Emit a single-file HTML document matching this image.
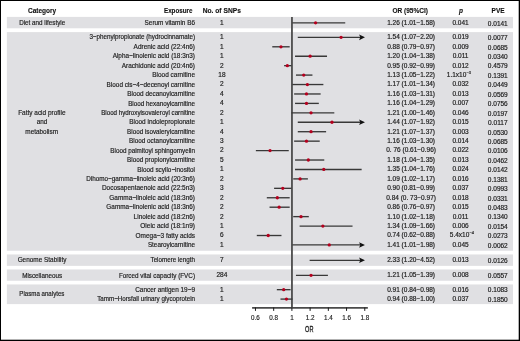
<!DOCTYPE html><html><head><meta charset="utf-8"><style>
html,body{margin:0;padding:0;background:#fff;}
body{width:520px;height:341px;overflow:hidden;position:relative;}
#w{position:absolute;left:0;top:0;width:520px;height:341px;will-change:transform;}
svg{position:absolute;left:0;top:0;display:block;}
text{font-family:"Liberation Sans",sans-serif;}
</style></head><body>
<div id="w"><svg width="520" height="341" viewBox="0 0 520 341">
<rect x="0" y="0" width="520" height="341" fill="#fff"/>
<rect x="6.85" y="16.9" width="506.15" height="11.40" fill="#e0e0e3"/>
<rect x="6.85" y="32.1" width="506.15" height="218.65" fill="#e0e0e3"/>
<rect x="6.85" y="254.45" width="506.15" height="11.42" fill="#e0e0e3"/>
<rect x="6.85" y="269.46" width="506.15" height="11.29" fill="#e0e0e3"/>
<rect x="6.85" y="284.45" width="506.15" height="19.65" fill="#e0e0e3"/>
<g font-weight="bold" font-size="6.5" fill="#111" stroke="#111" stroke-width="0.12">
<text x="42.1" y="12.55" text-anchor="middle">Category</text>
<text x="164.0" y="12.55" textLength="28.4" lengthAdjust="spacingAndGlyphs">Exposure</text>
<text x="221.8" y="12.55" text-anchor="middle" textLength="38.2" lengthAdjust="spacingAndGlyphs">No. of SNPs</text>
<text x="410.2" y="12.55" text-anchor="middle">OR (95%CI)</text>
<text x="461.0" y="12.55" text-anchor="middle" font-style="italic">p</text>
<text x="498.1" y="12.55" text-anchor="middle">PVE</text>
</g>
<g font-size="7.1" fill="#1c1c1c" stroke="#1c1c1c" stroke-width="0.18" text-anchor="middle">
<text x="42.16" y="25.15" textLength="46.00" lengthAdjust="spacingAndGlyphs">Diet and lifestyle</text>
<text x="41.85" y="114.94" textLength="47.38" lengthAdjust="spacingAndGlyphs">Fatty acid profile</text>
<text x="41.97" y="124.37" textLength="10.61" lengthAdjust="spacingAndGlyphs">and</text>
<text x="41.67" y="133.81" textLength="32.70" lengthAdjust="spacingAndGlyphs">metabolism</text>
<text x="42.07" y="262.45" textLength="48.89" lengthAdjust="spacingAndGlyphs">Genome Stability</text>
<text x="42.15" y="277.55" textLength="40.03" lengthAdjust="spacingAndGlyphs">Miscellaneous</text>
<text x="41.88" y="296.45" textLength="45.08" lengthAdjust="spacingAndGlyphs">Plasma analytes</text>
</g>
<g font-size="7.1" fill="#1c1c1c" stroke="#1c1c1c" stroke-width="0.18" text-anchor="end">
<text x="195.0" y="25.15" textLength="50.39" lengthAdjust="spacingAndGlyphs">Serum vitamin B6</text>
<text x="195.0" y="39.45" textLength="105.62" lengthAdjust="spacingAndGlyphs">3−phenylpropionate (hydrocinnamate)</text>
<text x="195.0" y="48.89" textLength="61.41" lengthAdjust="spacingAndGlyphs">Adrenic acid (22:4n6)</text>
<text x="195.0" y="58.32" textLength="82.30" lengthAdjust="spacingAndGlyphs">Alpha−linolenic acid (18:3n3)</text>
<text x="195.0" y="67.76" textLength="73.25" lengthAdjust="spacingAndGlyphs">Arachidonic acid (20:4n6)</text>
<text x="195.0" y="77.19" textLength="42.78" lengthAdjust="spacingAndGlyphs">Blood carnitine</text>
<text x="195.0" y="86.63" textLength="88.39" lengthAdjust="spacingAndGlyphs">Blood cis−4−decenoyl carnitine</text>
<text x="195.0" y="96.07" textLength="67.66" lengthAdjust="spacingAndGlyphs">Blood decanoylcarnitine</text>
<text x="195.0" y="105.50" textLength="66.84" lengthAdjust="spacingAndGlyphs">Blood hexanoylcarnitine</text>
<text x="195.0" y="114.94" textLength="93.84" lengthAdjust="spacingAndGlyphs">Blood hydroxyisovaleroyl carnitine</text>
<text x="195.0" y="124.37" textLength="65.78" lengthAdjust="spacingAndGlyphs">Blood indolepropionate</text>
<text x="195.0" y="133.81" textLength="67.96" lengthAdjust="spacingAndGlyphs">Blood isovalerylcarnitine</text>
<text x="195.0" y="143.25" textLength="66.02" lengthAdjust="spacingAndGlyphs">Blood octanoylcarnitine</text>
<text x="195.0" y="152.68" textLength="84.64" lengthAdjust="spacingAndGlyphs">Blood palmitoyl sphingomyelin</text>
<text x="195.0" y="162.12" textLength="67.97" lengthAdjust="spacingAndGlyphs">Blood propionylcarnitine</text>
<text x="195.0" y="171.55" textLength="57.66" lengthAdjust="spacingAndGlyphs">Blood scyllo−inositol</text>
<text x="195.0" y="180.99" textLength="108.84" lengthAdjust="spacingAndGlyphs">Dihomo−gamma−linoleic acid (20:3n6)</text>
<text x="195.0" y="190.43" textLength="93.04" lengthAdjust="spacingAndGlyphs">Docosapentaenoic acid (22:5n3)</text>
<text x="195.0" y="199.86" textLength="85.64" lengthAdjust="spacingAndGlyphs">Gamma−linoleic acid (18:3n6)</text>
<text x="195.0" y="209.30" textLength="88.63" lengthAdjust="spacingAndGlyphs">Gamma−linolenic acid (18:3n6)</text>
<text x="195.0" y="218.73" textLength="61.39" lengthAdjust="spacingAndGlyphs">Linoleic acid (18:2n6)</text>
<text x="195.0" y="228.17" textLength="54.76" lengthAdjust="spacingAndGlyphs">Oleic acid (18:1n9)</text>
<text x="195.0" y="237.61" textLength="59.40" lengthAdjust="spacingAndGlyphs">Omega−3 fatty acids</text>
<text x="195.0" y="247.04" textLength="47.10" lengthAdjust="spacingAndGlyphs">Stearoylcarnitine</text>
<text x="195.0" y="262.45" textLength="44.47" lengthAdjust="spacingAndGlyphs">Telomere length</text>
<text x="195.0" y="277.55" textLength="76.08" lengthAdjust="spacingAndGlyphs">Forced vital capacity (FVC)</text>
<text x="195.0" y="291.75" textLength="59.78" lengthAdjust="spacingAndGlyphs">Cancer antigen 19−9</text>
<text x="195.0" y="301.05" textLength="97.75" lengthAdjust="spacingAndGlyphs">Tamm−Horsfall urinary glycoprotein</text>
</g>
<g font-size="6.5" fill="#1c1c1c" stroke="#1c1c1c" stroke-width="0.18" text-anchor="middle">
<text x="221.9" y="24.94">1</text>
<text x="221.9" y="39.24">1</text>
<text x="221.9" y="48.68">1</text>
<text x="221.9" y="58.11">1</text>
<text x="221.9" y="67.55">2</text>
<text x="221.9" y="76.99">18</text>
<text x="221.9" y="86.42">2</text>
<text x="221.9" y="95.86">4</text>
<text x="221.9" y="105.29">4</text>
<text x="221.9" y="114.73">2</text>
<text x="221.9" y="124.17">1</text>
<text x="221.9" y="133.60">4</text>
<text x="221.9" y="143.04">3</text>
<text x="221.9" y="152.47">2</text>
<text x="221.9" y="161.91">5</text>
<text x="221.9" y="171.35">1</text>
<text x="221.9" y="180.78">2</text>
<text x="221.9" y="190.22">3</text>
<text x="221.9" y="199.65">2</text>
<text x="221.9" y="209.09">2</text>
<text x="221.9" y="218.53">2</text>
<text x="221.9" y="227.96">1</text>
<text x="221.9" y="237.40">6</text>
<text x="221.9" y="246.83">1</text>
<text x="221.9" y="262.24">7</text>
<text x="221.9" y="277.34">284</text>
<text x="221.9" y="291.54">1</text>
<text x="221.9" y="300.84">1</text>
</g>
<g font-size="6.5" fill="#1c1c1c" stroke="#1c1c1c" stroke-width="0.18" text-anchor="middle">
<text x="411.1" y="24.94">1.26 (1.01−1.58)</text>
<text x="411.1" y="39.24">1.54 (1.07−2.20)</text>
<text x="411.1" y="48.68">0.88 (0.79−0.97)</text>
<text x="411.1" y="58.11">1.20 (1.04−1.38)</text>
<text x="411.1" y="67.55">0.95 (0.92−0.99)</text>
<text x="411.1" y="76.99">1.13 (1.05−1.22)</text>
<text x="411.1" y="86.42">1.17 (1.01−1.34)</text>
<text x="411.1" y="95.86">1.16 (1.03−1.31)</text>
<text x="411.1" y="105.29">1.16 (1.04−1.29)</text>
<text x="411.1" y="114.73">1.21 (1.00−1.46)</text>
<text x="411.1" y="124.17">1.44 (1.07−1.92)</text>
<text x="411.1" y="133.60">1.21 (1.07−1.37)</text>
<text x="411.1" y="143.04">1.16 (1.03−1.30)</text>
<text x="411.1" y="152.47">0. 76 (0.61−0.96)</text>
<text x="411.1" y="161.91">1.18 (1.04−1.35)</text>
<text x="411.1" y="171.35">1.35 (1.04−1.76)</text>
<text x="411.1" y="180.78">1.09 (1.02−1.17)</text>
<text x="411.1" y="190.22">0.90 (0.81−0.99)</text>
<text x="411.1" y="199.65">0.84 (0. 73−0.97)</text>
<text x="411.1" y="209.09">0.86 (0.76−0.97)</text>
<text x="411.1" y="218.53">1.10 (1.02−1.18)</text>
<text x="411.1" y="227.96">1.34 (1.09−1.66)</text>
<text x="411.1" y="237.40">0.74 (0.62−0.88)</text>
<text x="411.1" y="246.83">1.41 (1.01−1.98)</text>
<text x="411.1" y="262.24">2.33 (1.20−4.52)</text>
<text x="411.1" y="277.34">1.21 (1.05−1.39)</text>
<text x="411.1" y="291.54">0.91 (0.84−0.98)</text>
<text x="411.1" y="300.84">0.94 (0.88−1.00)</text>
</g>
<g font-size="6.5" fill="#1c1c1c" stroke="#1c1c1c" stroke-width="0.18">
<text x="460.6" y="24.94" text-anchor="middle">0.041</text>
<text x="460.6" y="39.24" text-anchor="middle">0.019</text>
<text x="460.6" y="48.68" text-anchor="middle">0.009</text>
<text x="460.6" y="58.11" text-anchor="middle">0.011</text>
<text x="460.6" y="67.55" text-anchor="middle">0.012</text>
<text x="446.8" y="76.99">1.1x10<tspan font-size="4.0" dx="0.2" dy="-3.1">−3</tspan></text>
<text x="460.6" y="86.42" text-anchor="middle">0.032</text>
<text x="460.6" y="95.86" text-anchor="middle">0.013</text>
<text x="460.6" y="105.29" text-anchor="middle">0.007</text>
<text x="460.6" y="114.73" text-anchor="middle">0.046</text>
<text x="460.6" y="124.17" text-anchor="middle">0.015</text>
<text x="460.6" y="133.60" text-anchor="middle">0.003</text>
<text x="460.6" y="143.04" text-anchor="middle">0.014</text>
<text x="460.6" y="152.47" text-anchor="middle">0.022</text>
<text x="460.6" y="161.91" text-anchor="middle">0.013</text>
<text x="460.6" y="171.35" text-anchor="middle">0.024</text>
<text x="460.6" y="180.78" text-anchor="middle">0.016</text>
<text x="460.6" y="190.22" text-anchor="middle">0.037</text>
<text x="460.6" y="199.65" text-anchor="middle">0.018</text>
<text x="460.6" y="209.09" text-anchor="middle">0.015</text>
<text x="460.6" y="218.53" text-anchor="middle">0.011</text>
<text x="460.6" y="227.96" text-anchor="middle">0.006</text>
<text x="449.8" y="237.40">5.4x10<tspan font-size="4.0" dx="0.2" dy="-3.1">−4</tspan></text>
<text x="460.6" y="246.83" text-anchor="middle">0.045</text>
<text x="460.6" y="262.24" text-anchor="middle">0.013</text>
<text x="460.6" y="277.34" text-anchor="middle">0.008</text>
<text x="460.6" y="291.54" text-anchor="middle">0.016</text>
<text x="460.6" y="300.84" text-anchor="middle">0.037</text>
</g>
<g font-size="6.5" fill="#1c1c1c" stroke="#1c1c1c" stroke-width="0.18" text-anchor="middle">
<text x="497.8" y="25.84">0.0141</text>
<text x="497.8" y="40.14">0.0077</text>
<text x="497.8" y="49.58">0.0685</text>
<text x="497.8" y="59.01">0.0340</text>
<text x="497.8" y="68.45">0.4579</text>
<text x="497.8" y="77.89">0.1391</text>
<text x="497.8" y="87.32">0.0449</text>
<text x="497.8" y="96.76">0.0569</text>
<text x="497.8" y="106.19">0.0756</text>
<text x="497.8" y="115.63">0.0197</text>
<text x="497.8" y="125.07">0.0117</text>
<text x="497.8" y="134.50">0.0530</text>
<text x="497.8" y="143.94">0.0685</text>
<text x="497.8" y="153.37">0.0106</text>
<text x="497.8" y="162.81">0.0462</text>
<text x="497.8" y="172.25">0.0142</text>
<text x="497.8" y="181.68">0.1381</text>
<text x="497.8" y="191.12">0.0993</text>
<text x="497.8" y="200.55">0.0331</text>
<text x="497.8" y="209.99">0.0483</text>
<text x="497.8" y="219.43">0.1340</text>
<text x="497.8" y="228.86">0.0154</text>
<text x="497.8" y="238.30">0.0273</text>
<text x="497.8" y="247.73">0.0062</text>
<text x="497.8" y="263.14">0.0126</text>
<text x="497.8" y="278.24">0.0557</text>
<text x="497.8" y="292.44">0.1083</text>
<text x="497.8" y="301.74">0.1850</text>
</g>
<line x1="291.95" y1="16.9" x2="291.95" y2="308" stroke="#505050" stroke-width="1.85"/>
<line x1="292.31" y1="22.85" x2="345.24" y2="22.85" stroke="#383838" stroke-width="1.35"/>
<circle cx="315.59" cy="22.85" r="1.65" fill="#b4001e"/>
<line x1="297.78" y1="37.35" x2="360.78" y2="37.35" stroke="#383838" stroke-width="1.35"/>
<path d="M364.98 37.35 L359.08 34.55 L360.28 37.35 L359.08 40.15 Z" fill="#111"/>
<circle cx="341.09" cy="37.35" r="1.65" fill="#b4001e"/>
<line x1="272.27" y1="46.79" x2="289.67" y2="46.79" stroke="#383838" stroke-width="1.35"/>
<circle cx="280.97" cy="46.79" r="1.65" fill="#b4001e"/>
<line x1="295.04" y1="56.22" x2="327.02" y2="56.22" stroke="#383838" stroke-width="1.35"/>
<circle cx="310.12" cy="56.22" r="1.65" fill="#b4001e"/>
<line x1="284.11" y1="65.66" x2="291.49" y2="65.66" stroke="#383838" stroke-width="1.35"/>
<circle cx="287.34" cy="65.66" r="1.65" fill="#b4001e"/>
<line x1="295.95" y1="75.09" x2="312.44" y2="75.09" stroke="#383838" stroke-width="1.35"/>
<circle cx="303.74" cy="75.09" r="1.65" fill="#b4001e"/>
<line x1="292.31" y1="84.53" x2="323.37" y2="84.53" stroke="#383838" stroke-width="1.35"/>
<circle cx="307.39" cy="84.53" r="1.65" fill="#b4001e"/>
<line x1="294.13" y1="93.97" x2="320.64" y2="93.97" stroke="#383838" stroke-width="1.35"/>
<circle cx="306.48" cy="93.97" r="1.65" fill="#b4001e"/>
<line x1="295.04" y1="103.40" x2="318.82" y2="103.40" stroke="#383838" stroke-width="1.35"/>
<circle cx="306.48" cy="103.40" r="1.65" fill="#b4001e"/>
<line x1="291.40" y1="112.84" x2="334.31" y2="112.84" stroke="#383838" stroke-width="1.35"/>
<circle cx="311.03" cy="112.84" r="1.65" fill="#b4001e"/>
<line x1="297.78" y1="122.27" x2="360.78" y2="122.27" stroke="#383838" stroke-width="1.35"/>
<path d="M364.98 122.27 L359.08 119.47 L360.28 122.27 L359.08 125.07 Z" fill="#111"/>
<circle cx="331.98" cy="122.27" r="1.65" fill="#b4001e"/>
<line x1="297.78" y1="131.71" x2="326.11" y2="131.71" stroke="#383838" stroke-width="1.35"/>
<circle cx="311.03" cy="131.71" r="1.65" fill="#b4001e"/>
<line x1="294.13" y1="141.15" x2="319.73" y2="141.15" stroke="#383838" stroke-width="1.35"/>
<circle cx="306.48" cy="141.15" r="1.65" fill="#b4001e"/>
<line x1="255.87" y1="150.58" x2="288.76" y2="150.58" stroke="#383838" stroke-width="1.35"/>
<circle cx="270.04" cy="150.58" r="1.65" fill="#b4001e"/>
<line x1="295.04" y1="160.02" x2="324.28" y2="160.02" stroke="#383838" stroke-width="1.35"/>
<circle cx="308.30" cy="160.02" r="1.65" fill="#b4001e"/>
<line x1="295.04" y1="169.45" x2="361.64" y2="169.45" stroke="#383838" stroke-width="1.35"/>
<circle cx="323.78" cy="169.45" r="1.65" fill="#b4001e"/>
<line x1="293.22" y1="178.89" x2="307.89" y2="178.89" stroke="#383838" stroke-width="1.35"/>
<circle cx="300.10" cy="178.89" r="1.65" fill="#b4001e"/>
<line x1="274.09" y1="188.33" x2="291.49" y2="188.33" stroke="#383838" stroke-width="1.35"/>
<circle cx="282.79" cy="188.33" r="1.65" fill="#b4001e"/>
<line x1="266.80" y1="197.76" x2="289.67" y2="197.76" stroke="#383838" stroke-width="1.35"/>
<circle cx="277.32" cy="197.76" r="1.65" fill="#b4001e"/>
<line x1="269.54" y1="207.20" x2="289.67" y2="207.20" stroke="#383838" stroke-width="1.35"/>
<circle cx="279.15" cy="207.20" r="1.65" fill="#b4001e"/>
<line x1="293.22" y1="216.63" x2="308.80" y2="216.63" stroke="#383838" stroke-width="1.35"/>
<circle cx="301.01" cy="216.63" r="1.65" fill="#b4001e"/>
<line x1="299.60" y1="226.07" x2="352.53" y2="226.07" stroke="#383838" stroke-width="1.35"/>
<circle cx="322.87" cy="226.07" r="1.65" fill="#b4001e"/>
<line x1="256.78" y1="235.51" x2="281.47" y2="235.51" stroke="#383838" stroke-width="1.35"/>
<circle cx="268.21" cy="235.51" r="1.65" fill="#b4001e"/>
<line x1="292.31" y1="244.94" x2="360.78" y2="244.94" stroke="#383838" stroke-width="1.35"/>
<path d="M364.98 244.94 L359.08 242.14 L360.28 244.94 L359.08 247.74 Z" fill="#111"/>
<circle cx="329.25" cy="244.94" r="1.65" fill="#b4001e"/>
<line x1="309.62" y1="260.30" x2="360.78" y2="260.30" stroke="#383838" stroke-width="1.35"/>
<path d="M364.98 260.30 L359.08 257.50 L360.28 260.30 L359.08 263.10 Z" fill="#111"/>
<line x1="295.95" y1="275.30" x2="327.93" y2="275.30" stroke="#383838" stroke-width="1.35"/>
<circle cx="311.03" cy="275.30" r="1.65" fill="#b4001e"/>
<line x1="276.82" y1="289.65" x2="290.58" y2="289.65" stroke="#383838" stroke-width="1.35"/>
<circle cx="283.70" cy="289.65" r="1.65" fill="#b4001e"/>
<line x1="280.47" y1="299.10" x2="292.40" y2="299.10" stroke="#383838" stroke-width="1.35"/>
<circle cx="286.43" cy="299.10" r="1.65" fill="#b4001e"/>
<line x1="252.1" y1="307.9" x2="367.85" y2="307.9" stroke="#4a4a4a" stroke-width="1.9"/>
<line x1="255.46" y1="307.5" x2="255.46" y2="310.9" stroke="#1a1a1a" stroke-width="1"/>
<text x="255.46" y="319.8" font-size="6.3" fill="#222" stroke="#222" stroke-width="0.15" text-anchor="middle">0.6</text>
<line x1="273.68" y1="307.5" x2="273.68" y2="310.9" stroke="#1a1a1a" stroke-width="1"/>
<text x="273.68" y="319.8" font-size="6.3" fill="#222" stroke="#222" stroke-width="0.15" text-anchor="middle">0.8</text>
<line x1="291.90" y1="307.5" x2="291.90" y2="310.9" stroke="#1a1a1a" stroke-width="1"/>
<text x="291.90" y="319.8" font-size="6.3" fill="#222" stroke="#222" stroke-width="0.15" text-anchor="middle">1</text>
<line x1="310.12" y1="307.5" x2="310.12" y2="310.9" stroke="#1a1a1a" stroke-width="1"/>
<text x="310.12" y="319.8" font-size="6.3" fill="#222" stroke="#222" stroke-width="0.15" text-anchor="middle">1.2</text>
<line x1="328.34" y1="307.5" x2="328.34" y2="310.9" stroke="#1a1a1a" stroke-width="1"/>
<text x="328.34" y="319.8" font-size="6.3" fill="#222" stroke="#222" stroke-width="0.15" text-anchor="middle">1.4</text>
<line x1="346.56" y1="307.5" x2="346.56" y2="310.9" stroke="#1a1a1a" stroke-width="1"/>
<text x="346.56" y="319.8" font-size="6.3" fill="#222" stroke="#222" stroke-width="0.15" text-anchor="middle">1.6</text>
<line x1="364.78" y1="307.5" x2="364.78" y2="310.9" stroke="#1a1a1a" stroke-width="1"/>
<text x="364.78" y="319.8" font-size="6.3" fill="#222" stroke="#222" stroke-width="0.15" text-anchor="middle">1.8</text>
<text x="309.3" y="332.1" font-size="9.3" fill="#222" stroke="#222" stroke-width="0.35" text-anchor="middle" transform="translate(309.3 0) scale(0.6 1) translate(-309.3 0)">OR</text>
<rect x="518" y="0" width="1" height="341" fill="#000" opacity="0.3"/>
<rect x="0" y="339" width="520" height="1" fill="#000" opacity="0.3"/>
<rect x="0" y="0" width="1" height="341" fill="#000"/>
<rect x="0" y="0" width="520" height="1" fill="#000"/>
<rect x="519" y="0" width="1" height="341" fill="#000"/>
<rect x="0" y="340" width="520" height="1" fill="#000"/>
</svg></div></body></html>
